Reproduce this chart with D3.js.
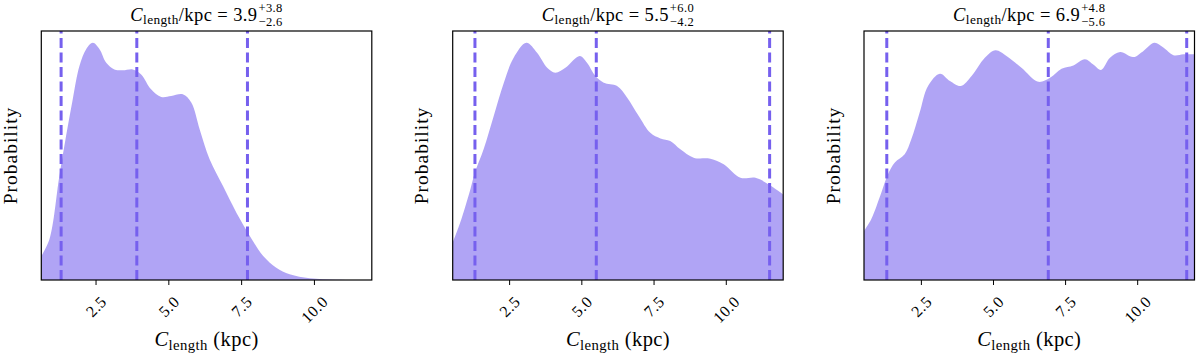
<!DOCTYPE html>
<html>
<head>
<meta charset="utf-8">
<script src="https://cdn.jsdelivr.net/npm/d3@7"></script>
<style>
  body { margin: 0; background: #fff; }
  text { font-family: "Liberation Serif", "DejaVu Serif", serif; fill: #000; }
</style>
</head>
<body>
<div id="chart"></div>
<script>
var width = 1200, height = 356;

// ---- data (density, arbitrary units, peak = 1) ----
var xs1 = [0.62, 0.90, 1.24, 1.47, 1.70, 1.93, 2.16, 2.39, 2.62, 2.85, 3.13, 3.42, 3.76, 4.05, 4.39, 4.74, 5.08, 5.48, 5.77, 6.06, 6.40, 6.86, 7.32, 7.78, 8.24, 8.69, 9.15, 9.84, 10.76, 11.97];
var p1  = [0.101, 0.172, 0.439, 0.607, 0.762, 0.902, 0.973, 1.0, 0.973, 0.916, 0.888, 0.884, 0.888, 0.867, 0.804, 0.772, 0.776, 0.783, 0.748, 0.635, 0.509, 0.396, 0.284, 0.186, 0.101, 0.052, 0.024, 0.007, 0.001, 0.0];

var xs2 = [0.53, 0.79, 1.14, 1.30, 1.60, 1.95, 2.30, 2.64, 3.08, 3.45, 3.80, 4.08, 4.43, 4.93, 5.18, 5.47, 5.76, 6.22, 6.57, 6.97, 7.37, 7.72, 8.06, 8.41, 8.87, 9.45, 9.91, 10.49, 11.01, 11.47, 11.97];
var p2  = [0.157, 0.242, 0.382, 0.453, 0.551, 0.692, 0.832, 0.937, 1.0, 0.958, 0.895, 0.874, 0.895, 0.945, 0.916, 0.860, 0.832, 0.818, 0.769, 0.692, 0.621, 0.597, 0.586, 0.551, 0.516, 0.511, 0.488, 0.431, 0.431, 0.403, 0.361];

var xs3 = [0.51, 0.76, 1.11, 1.34, 1.58, 1.92, 2.15, 2.44, 2.73, 3.14, 3.49, 3.87, 4.24, 4.70, 5.07, 5.45, 5.97, 6.55, 6.96, 7.36, 7.77, 8.17, 8.46, 8.73, 9.04, 9.39, 9.85, 10.20, 10.58, 10.89, 11.24, 11.59, 11.97];
var p3  = [0.207, 0.256, 0.368, 0.446, 0.495, 0.530, 0.593, 0.706, 0.818, 0.870, 0.839, 0.818, 0.860, 0.937, 0.969, 0.945, 0.895, 0.836, 0.853, 0.891, 0.905, 0.931, 0.909, 0.886, 0.937, 0.961, 0.940, 0.966, 1.0, 0.980, 0.948, 0.952, 0.952];

// median and 68% interval for each panel
var medians = [3.9, 5.5, 6.9];
var errUp   = [3.8, 6.0, 4.8];
var errDown = [2.6, 4.2, 5.6];

var xLimits = [[0.62, 11.97], [0.53, 11.97], [0.51, 11.97]];
var tickValues = [2.5, 5.0, 7.5, 10.0];

var panels = [
  {xs: xs1, p: p1},
  {xs: xs2, p: p2},
  {xs: xs3, p: p3}
];

// layout
var panelLeft = [41.3, 452.7, 864];
var panelW = 330.5, plotTop = 31, plotBottom = 280;
var fillColor = "#7b68ee";
var lineColor = "#7660ee";

var svg = d3.select("#chart").append("svg")
  .attr("width", width)
  .attr("height", height);

// helper: math-ish label  C_length ...
function addMath(g, parts, size) {
  var t = g.append("text").attr("font-size", size).attr("letter-spacing", 0.4);
  var shift = 0;
  parts.forEach(function(p) {
    var s = p.shift || 0;
    t.append("tspan").text(p.t)
      .attr("dy", s - shift)
      .attr("font-size", p.small ? size * 0.72 : size)
      .attr("font-style", p.it ? "italic" : null);
    shift = s;
  });
  return t;
}

panels.forEach(function(d, i) {
  var x0 = panelLeft[i];
  var g = svg.append("g").attr("transform", "translate(" + x0 + ",0)");

  var x = d3.scaleLinear().domain(xLimits[i]).range([0, panelW]);
  var y = d3.scaleLinear().domain([0, d3.max(d.p) * 1.05]).range([plotBottom, plotTop]);

  var pts = d.xs.map(function(v, k) { return [v, d.p[k]]; });

  g.append("clipPath").attr("id", "clip" + i)
    .append("rect").attr("x", 0).attr("y", plotTop)
    .attr("width", panelW).attr("height", plotBottom - plotTop);

  var area = d3.area()
    .x(function(q) { return x(q[0]); })
    .y0(y(0))
    .y1(function(q) { return y(q[1]); })
    .curve(d3.curveCatmullRom.alpha(0.5));

  g.append("path")
    .datum(pts)
    .attr("clip-path", "url(#clip" + i + ")")
    .attr("d", area)
    .attr("fill", fillColor)
    .attr("fill-opacity", 0.6);

  // dashed lines: lower, median, upper
  var lines = [medians[i] - errDown[i], medians[i], medians[i] + errUp[i]];
  g.selectAll(".vline").data(lines).enter().append("line")
    .attr("class", "vline")
    .attr("x1", function(v) { return x(v); })
    .attr("x2", function(v) { return x(v); })
    .attr("y1", plotBottom)
    .attr("y2", plotTop)
    .attr("stroke", lineColor)
    .attr("stroke-width", 3)
    .attr("stroke-dasharray", "10,4.5");

  // frame
  g.append("rect")
    .attr("x", 0).attr("y", plotTop)
    .attr("width", panelW).attr("height", plotBottom - plotTop)
    .attr("fill", "none").attr("stroke", "#000").attr("stroke-width", 1.2);

  // ticks
  var ticks = g.selectAll(".tick").data(tickValues).enter().append("g")
    .attr("class", "tick");
  ticks.append("line")
    .attr("x1", function(v) { return x(v); })
    .attr("x2", function(v) { return x(v); })
    .attr("y1", plotBottom).attr("y2", plotBottom + 5)
    .attr("stroke", "#000").attr("stroke-width", 1);
  ticks.append("text")
    .attr("font-size", 16)
    .attr("letter-spacing", 0.5)
    .attr("text-anchor", "middle")
    .attr("dy", "0.35em")
    .text(function(v) { return d3.format(".1f")(v); })
    .attr("transform", function(v) {
      var w = this.getComputedTextLength();
      var ext = (w + 11) / Math.SQRT2;
      return "translate(" + x(v) + "," + (295 + ext / 2) + ") rotate(-45)";
    });

  // title
  var tg = g.append("g");
  var t = addMath(tg, [
    {t: "C", it: true},
    {t: "length", small: true, shift: 3},
    {t: "/kpc = " + d3.format(".1f")(medians[i]), shift: 0}
  ], 18.5);
  var w = t.node().getComputedTextLength();
  var sup = tg.append("text").attr("font-size", 12.5).attr("letter-spacing", 0.4).attr("x", w + 1).attr("y", -8.5)
    .text("+" + d3.format(".1f")(errUp[i]));
  var sub = tg.append("text").attr("font-size", 12.5).attr("letter-spacing", 0.4).attr("x", w + 1).attr("y", 5)
    .text("\u2212" + d3.format(".1f")(errDown[i]));
  var total = w + 1 + Math.max(sup.node().getComputedTextLength(), sub.node().getComputedTextLength());
  tg.attr("transform", "translate(" + (panelW / 2 - total / 2) + ",20.7)");

  // x label
  var xg = g.append("g");
  var xt = addMath(xg, [
    {t: "C", it: true},
    {t: "length", small: true, shift: 4},
    {t: " (kpc)", shift: 0}
  ], 20.5);
  var xw = xt.node().getComputedTextLength();
  xg.attr("transform", "translate(" + (panelW / 2 - xw / 2) + ",345.5)");

  // y label
  g.append("text")
    .attr("font-size", 19.5)
    .attr("letter-spacing", 1)
    .attr("text-anchor", "middle")
    .attr("transform", "translate(" + (17 - 41.3) + "," + ((plotTop + plotBottom) / 2) + ") rotate(-90)")
    .text("Probability");
});
</script>
</body>
</html>
